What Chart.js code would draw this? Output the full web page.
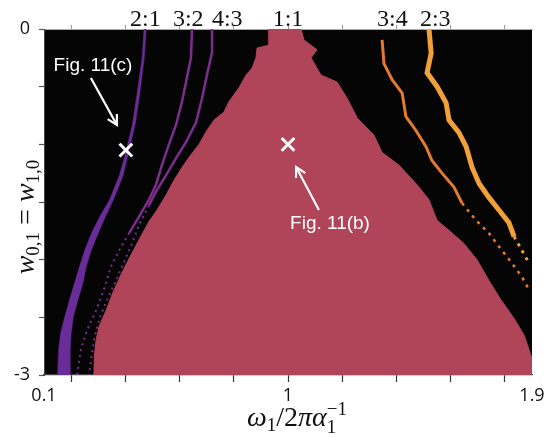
<!DOCTYPE html>
<html>
<head>
<meta charset="utf-8">
<script src="https://cdn.jsdelivr.net/npm/chart.js@4/dist/chart.umd.min.js"></script>
<style>
  html, body { margin: 0; padding: 0; background: #fff; }
  #wrap { width: 551px; height: 437px; }
</style>
</head>
<body>
<div id="wrap"><canvas id="chart" width="551" height="437"></canvas></div>
<script>
// axes
const xTickValues = [0.1, 0.2, 0.4, 0.6, 0.8, 1, 1.2, 1.4, 1.6, 1.8, 1.9];
const xTickLabels = ["0.1", "1", "1.9"];
const yTickValues = [-3, -2.5, -2, -1.5, -1, -0.5, 0];
const yTickLabels = ["0", "-3"];

// ratio labels on top
const ratioLabels = ["2:1", "3:2", "4:3", "1:1", "3:4", "2:3"];
const ratioPos = [0.474, 0.632, 0.776, 1.0, 1.385, 1.543];

// 1:1 tongue, [x, w]
const tongueLeft = [[0.93, 0], [0.93, -0.14], [0.886, -0.165], [0.882, -0.25], [0.867, -0.34], [0.845, -0.4],
  [0.819, -0.51], [0.782, -0.63], [0.764, -0.72], [0.727, -0.79], [0.698, -0.89], [0.672, -1.0],
  [0.642, -1.09], [0.609, -1.2], [0.58, -1.31], [0.55, -1.44], [0.517, -1.57], [0.487, -1.67],
  [0.45, -1.83], [0.414, -1.99], [0.384, -2.13], [0.355, -2.28], [0.329, -2.44], [0.303, -2.58],
  [0.292, -2.7], [0.286, -2.83], [0.284, -3]];
const tongueRight = [[1.048, 0], [1.059, -0.095], [1.107, -0.18], [1.085, -0.25], [1.122, -0.4], [1.181, -0.46],
  [1.218, -0.6], [1.255, -0.77], [1.317, -0.92], [1.347, -1.07], [1.409, -1.18], [1.476, -1.35],
  [1.52, -1.48], [1.55, -1.66], [1.601, -1.76], [1.649, -1.86], [1.697, -2.0], [1.741, -2.18],
  [1.786, -2.35], [1.834, -2.51], [1.872, -2.66], [1.9, -2.86], [1.9, -3]];

// 2:1 band edges
const band21Left = [[0.469, 0], [0.462, -0.25], [0.444, -0.55], [0.426, -0.83], [0.396, -1.12], [0.378, -1.27],
  [0.342, -1.48], [0.305, -1.63], [0.275, -1.77], [0.25, -1.92], [0.231, -2.06], [0.213, -2.2],
  [0.194, -2.35], [0.176, -2.5], [0.161, -2.64], [0.154, -2.78], [0.15, -3]];
const band21Right = [[0.477, 0], [0.47, -0.25], [0.454, -0.55], [0.436, -0.83], [0.407, -1.12], [0.392, -1.27],
  [0.356, -1.48], [0.326, -1.63], [0.3, -1.77], [0.274, -1.92], [0.256, -2.06], [0.244, -2.2],
  [0.225, -2.35], [0.208, -2.5], [0.2, -2.64], [0.197, -2.78], [0.197, -3]];

// 3:2 and 4:3
const line32 = [[0.646, 0], [0.642, -0.25], [0.624, -0.46], [0.609, -0.63], [0.587, -0.83], [0.561, -1.0],
  [0.535, -1.18], [0.513, -1.35], [0.487, -1.48], [0.45, -1.63], [0.414, -1.77]];
const line32Dots = [[0.414, -1.77], [0.377, -1.92], [0.347, -2.06], [0.321, -2.26], [0.292, -2.44],
  [0.259, -2.61], [0.236, -2.78], [0.222, -3]];
const line43 = [[0.72, 0], [0.72, -0.2], [0.701, -0.4], [0.683, -0.6], [0.661, -0.81], [0.624, -0.98],
  [0.587, -1.12], [0.55, -1.27], [0.513, -1.41], [0.487, -1.53]];
const line43Dots = [[0.487, -1.53], [0.45, -1.7], [0.425, -1.86], [0.395, -2.02], [0.366, -2.18],
  [0.332, -2.35], [0.303, -2.52], [0.284, -2.7], [0.266, -3]];

// 3:4 and 2:3
const line34 = [[1.347, -0.095], [1.354, -0.3], [1.384, -0.44], [1.421, -0.555], [1.435, -0.76], [1.472, -0.88],
  [1.509, -1.02], [1.531, -1.14], [1.568, -1.25], [1.612, -1.37], [1.642, -1.51]];
const line34Dots = [[1.642, -1.51], [1.694, -1.66], [1.741, -1.77], [1.789, -1.92], [1.826, -2.03],
  [1.863, -2.15], [1.889, -2.26]];
const line23 = [[1.52, 0], [1.528, -0.21], [1.513, -0.38], [1.55, -0.5], [1.583, -0.64], [1.594, -0.79],
  [1.631, -0.9], [1.657, -1.02], [1.679, -1.2], [1.705, -1.34], [1.741, -1.46], [1.778, -1.57],
  [1.815, -1.68], [1.834, -1.8]];
const line23Dots = [[1.834, -1.8], [1.863, -1.92], [1.889, -2.03]];

// marked points (Fig. 11(c), Fig. 11(b))
const markerPts = [[0.402, -1.05], [1.0, -1.0]];
const markerNames = ["Fig. 11(c)", "Fig. 11(b)"];

const pts = arr => arr.map(([x, y]) => ({ x, y }));
const ring = (left, right) => pts(left.concat(right.slice().reverse()));

const pink = "#b04459";
const purple = "#6a2c99";
const magenta = "#7b2e8d";
const orange = "#e47a2e";
const lightOrange = "#f2a03a";

function arrow(ctx, x1, y1, x2, y2) {
  const a = Math.atan2(y2 - y1, x2 - x1);
  const h = 11;
  ctx.beginPath();
  ctx.moveTo(x1, y1);
  ctx.lineTo(x2, y2);
  ctx.moveTo(x2 - h * Math.cos(a - 0.5), y2 - h * Math.sin(a - 0.5));
  ctx.lineTo(x2, y2);
  ctx.lineTo(x2 - h * Math.cos(a + 0.5), y2 - h * Math.sin(a + 0.5));
  ctx.stroke();
}

function richWidth(ctx, parts) {
  let w = 0;
  parts.forEach(p => {
    ctx.font = p.f;
    if (!p.noAdv) w += ctx.measureText(p.t).width;
  });
  return w;
}

function drawRich(ctx, parts, cx, baseY) {
  let x = cx - richWidth(ctx, parts) / 2;
  parts.forEach(p => {
    ctx.font = p.f;
    ctx.fillText(p.t, x, baseY + (p.dy || 0));
    if (!p.noAdv) x += ctx.measureText(p.t).width;
  });
}

const plotBg = {
  id: "plotBg",
  beforeDraw(chart) {
    const { ctx, chartArea: a } = chart;
    ctx.save();
    ctx.fillStyle = "#050505";
    ctx.fillRect(a.left, a.top, a.right - a.left, a.bottom - a.top);
    ctx.restore();
  }
};

const labels = {
  id: "labels",
  afterDraw(chart) {
    const { ctx } = chart;
    const xs = chart.scales.x;
    const ys = chart.scales.y;
    ctx.save();

    // ratio labels
    ctx.fillStyle = "#111";
    ctx.font = "24px 'Liberation Serif'";
    ctx.textAlign = "center";
    ctx.textBaseline = "alphabetic";
    ratioLabels.forEach((t, i) => ctx.fillText(t, xs.getPixelForValue(ratioPos[i]), 26));

    // annotations
    ctx.fillStyle = "#fff";
    ctx.strokeStyle = "#fff";
    ctx.lineWidth = 2.2;
    ctx.font = "19px 'Liberation Sans'";
    ctx.fillText(markerNames[0], 93, 71);
    ctx.fillText(markerNames[1], 330, 229);
    arrow(ctx, xs.getPixelForValue(0.273), ys.getPixelForValue(-0.425),
      xs.getPixelForValue(0.369), ys.getPixelForValue(-0.832));
    arrow(ctx, xs.getPixelForValue(1.114), ys.getPixelForValue(-1.569),
      xs.getPixelForValue(1.03), ys.getPixelForValue(-1.197));

    // x title
    ctx.fillStyle = "#111";
    ctx.textAlign = "left";
    const big = "italic 28px 'Liberation Serif'";
    const bigUp = "28px 'Liberation Serif'";
    const small = "19px 'Liberation Serif'";
    drawRich(ctx, [
      { t: "ω", f: big },
      { t: "1", f: small, dy: 5 },
      { t: "/2", f: bigUp },
      { t: "π", f: big },
      { t: "α", f: big },
      { t: "1", f: small, dy: 7, noAdv: true },
      { t: "−1", f: small, dy: -11 }
    ], 297, 426);

    // y title
    ctx.translate(34, 217);
    ctx.rotate(-Math.PI / 2);
    drawRich(ctx, [
      { t: "w", f: big },
      { t: "0,1", f: small, dy: 5 },
      { t: " = ", f: bigUp },
      { t: "w", f: big },
      { t: "1,0", f: small, dy: 5 }
    ], 0, 0);
    ctx.restore();
  }
};

const tickFont = { family: "'Open Sans'", size: 18 };

new Chart(document.getElementById("chart"), {
  type: "scatter",
  data: {
    datasets: [
      { data: pts(markerPts), showLine: false, pointStyle: "crossRot", pointRadius: 9,
        borderColor: "#fff", backgroundColor: "#fff", borderWidth: 3 },
      { data: pts(line23), borderColor: lightOrange, borderWidth: 5 },
      { data: pts(line23Dots), borderColor: lightOrange, borderWidth: 3, borderDash: [3, 5] },
      { data: pts(line34), borderColor: orange, borderWidth: 3 },
      { data: pts(line34Dots), borderColor: orange, borderWidth: 2.5, borderDash: [3, 5] },
      { data: pts(line43), borderColor: magenta, borderWidth: 2.5 },
      { data: pts(line43Dots), borderColor: magenta, borderWidth: 2, borderDash: [2, 4] },
      { data: pts(line32), borderColor: magenta, borderWidth: 2.5 },
      { data: pts(line32Dots), borderColor: magenta, borderWidth: 2, borderDash: [2, 4] },
      { data: ring(band21Left, band21Right), fill: "shape", borderColor: purple,
        backgroundColor: purple, borderWidth: 0.5 },
      { data: ring(tongueLeft, tongueRight), fill: "shape", borderColor: pink,
        backgroundColor: pink, borderWidth: 1 }
    ]
  },
  options: {
    responsive: false,
    animation: false,
    showLine: true,
    layout: { padding: { left: 0, right: 19, top: 0, bottom: 0 } },
    elements: {
      point: { radius: 0, hoverRadius: 0 },
      line: { tension: 0 }
    },
    plugins: {
      legend: { display: false },
      tooltip: { enabled: false }
    },
    scales: {
      x: {
        type: "linear",
        min: 0.1,
        max: 1.9,
        afterBuildTicks: s => { s.ticks = xTickValues.map(v => ({ value: v })); },
        afterFit: s => { s.height = 62; },
        ticks: {
          autoSkip: false,
          maxRotation: 0,
          padding: 3,
          color: "#111",
          font: tickFont,
          callback: v => xTickLabels.includes(String(v)) ? String(v) : ""
        },
        grid: {
          drawOnChartArea: false,
          tickLength: 7,
          tickWidth: 1.2,
          tickColor: c => (c.tick && (c.tick.value === 0.1 || c.tick.value === 1.9)) ? "rgba(0,0,0,0)" : "#333"
        },
        border: { display: true, color: "#444", width: 1.2 }
      },
      xTop: {
        type: "linear",
        position: "top",
        min: 0.1,
        max: 1.9,
        afterBuildTicks: s => { s.ticks = xTickValues.map(v => ({ value: v })); },
        afterFit: s => { s.height = 29; },
        ticks: { display: false },
        grid: {
          drawOnChartArea: false,
          tickLength: 4,
          tickColor: c => (c.tick && (c.tick.value === 0.1 || c.tick.value === 1.9)) ? "rgba(0,0,0,0)" : "#999"
        },
        border: { display: true, color: "#aaa", width: 1 }
      },
      y: {
        type: "linear",
        min: -3,
        max: 0,
        afterBuildTicks: s => { s.ticks = yTickValues.map(v => ({ value: v })); },
        afterFit: s => { s.width = 44; },
        ticks: {
          autoSkip: false,
          padding: 9,
          color: "#111",
          font: tickFont,
          callback: v => yTickLabels.includes(String(v)) ? String(v) : ""
        },
        grid: {
          drawOnChartArea: false,
          tickLength: 5,
          tickWidth: 1.2,
          tickColor: "#555"
        },
        border: { display: true, color: "#444", width: 1 }
      }
    }
  },
  plugins: [plotBg, labels]
});
</script>
</body>
</html>
